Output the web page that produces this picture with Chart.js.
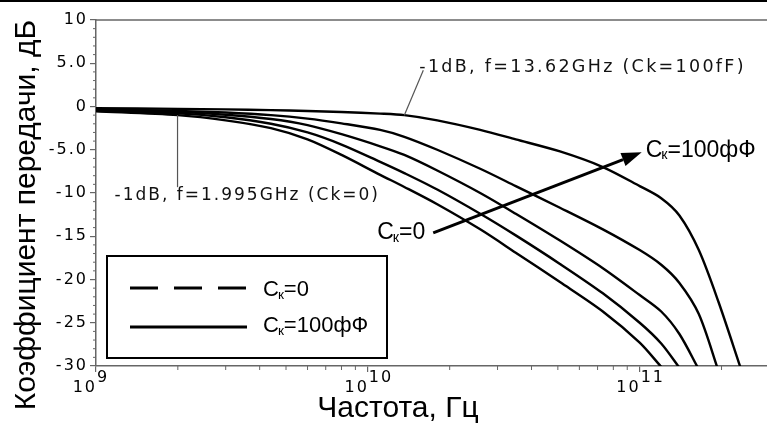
<!DOCTYPE html>
<html><head><meta charset="utf-8">
<script src="https://cdn.jsdelivr.net/npm/chart.js@4.4.0/dist/chart.umd.min.js"></script>
<style>html,body{margin:0;padding:0;background:#fff;overflow:hidden}#wrap{width:767px;height:435px}</style>
</head><body><div id="wrap"><canvas id="c" width="767" height="435"></canvas></div>
<script>
// Frequencies in GHz
const freqGHz = [1, 2, 3, 4.4, 6, 8, 11.1, 13.62, 18, 25.9, 35, 50.9, 73.2, 100, 120, 140, 165, 195, 235];
// Transfer coefficient, dB (bottom curve Ck=0 ... top curve Ck=100fF)
const gainCk0   = [-0.55, -1.0, -1.6, -2.5, -3.8, -5.6, -7.9, -9.3, -11.3, -14.2, -16.9, -20.3, -23.7, -27.3, -30.1, null, null, null, null];
const gainCk25  = [-0.5, -0.8, -1.25, -2.0, -3.0, -4.4, -6.4, -7.7, -9.6, -12.4, -14.9, -18.2, -21.6, -25.0, -27.4, -30.2, null, null, null];
const gainCk50  = [-0.4, -0.65, -0.95, -1.45, -2.15, -3.2, -4.6, -5.6, -7.4, -10.0, -12.4, -15.5, -18.7, -21.8, -23.7, -26.3, -30.4, null, null];
const gainCk75  = [-0.3, -0.5, -0.7, -1.0, -1.4, -1.95, -2.7, -3.5, -5.0, -7.2, -9.2, -11.7, -14.2, -16.6, -18.3, -20.4, -24.0, -30.6, null];
const gainCk100 = [-0.2, -0.28, -0.33, -0.42, -0.52, -0.64, -0.82, -1.0, -1.6, -2.7, -3.8, -5.2, -7.0, -9.2, -10.6, -12.6, -16.6, -22.6, -30.2];
const seriesLabels = ['Cк=0', 'Cк=25фФ', 'Cк=50фФ', 'Cк=75фФ', 'Cк=100фФ'];

const yTickValues = [-30, -25, -20, -15, -10, -5, 0, 5, 10];
const yTickLabels = ['-30', '-25', '-20', '-15', '-10', '-5.0', '0', '5.0', '10'];
const xTickValues = [1e9, 1e10, 1e11];
const xTickBase = ['10', '10', '10'];
const xTickExp = ['9', '10', '11'];

const xTitle = 'Частота, Гц';
const yTitle = 'Коэффициент передачи, дБ';
const note100 = '-1dB, f=13.62GHz (Ck=100fF)';
const note0 = '-1dB, f=1.995GHz (Ck=0)';
const note100Point = [13.62e9, -1];
const note0Point = [1.995e9, -1];
const arrowFrom = [17.4e9, -14.6];
const arrowTo = [101.7e9, -5.3];
const ckZeroRest = '=0';
const ckHundredRest = '=100фФ';

const seriesList = [gainCk0, gainCk25, gainCk50, gainCk75, gainCk100];
const datasets = seriesList.map((arr, i) => ({
  label: seriesLabels[i],
  data: freqGHz.map((f, j) => ({x: f * 1e9, y: arr[j]})),
  borderColor: '#000', borderWidth: 2.4, pointRadius: 0, fill: false,
  tension: 0.3, spanGaps: false
}));

function drawCk(ctx, x, yMid, rest, size) {
  ctx.textBaseline = 'middle'; ctx.textAlign = 'left'; ctx.fillStyle = '#000';
  ctx.font = size + 'px "Liberation Sans"';
  ctx.fillText('C', x, yMid);
  let w = ctx.measureText('C').width;
  ctx.font = (size * 0.62) + 'px "Liberation Sans"';
  ctx.fillText('к', x + w - 1, yMid + size * 0.22);
  w += ctx.measureText('к').width - 1;
  ctx.font = size + 'px "Liberation Sans"';
  ctx.fillText(rest, x + w, yMid);
}

const decor = {
  id: 'decor',
  beforeDraw(chart) { chart.ctx.letterSpacing = '2px'; },
  afterDraw(chart) {
    const ctx = chart.ctx, xs = chart.scales.x, ys = chart.scales.y, ca = chart.chartArea;
    ctx.save();
    ctx.letterSpacing = '0px';
    // outer top rule
    ctx.fillStyle = '#000'; ctx.fillRect(0, 0, chart.width, 2);
    // plot top border
    ctx.strokeStyle = '#666'; ctx.lineWidth = 1.5;
    ctx.beginPath(); ctx.moveTo(ca.left, ca.top); ctx.lineTo(ca.right, ca.top); ctx.stroke();
    // minor ticks
    ctx.lineWidth = 1; ctx.strokeStyle = '#666';
    ctx.beginPath();
    for (let e = 9; e <= 11; e++) for (let k = 2; k <= 9; k++) {
      const v = k * Math.pow(10, e); if (v > xs.max) break;
      const px = xs.getPixelForValue(v); ctx.moveTo(px, ca.bottom); ctx.lineTo(px, ca.bottom + 4);
    }
    for (let v = ys.min; v <= ys.max; v++) {
      if (v % 5 === 0) continue;
      const py = ys.getPixelForValue(v); ctx.moveTo(ca.left - 3, py); ctx.lineTo(ca.left, py);
    }
    ctx.stroke();
    // x tick labels with exponent
    ctx.fillStyle = '#000'; ctx.letterSpacing = '2px';
    xTickValues.forEach((v, i) => {
      const px = xs.getPixelForValue(v);
      ctx.font = '16px "DejaVu Sans"'; ctx.textBaseline = 'middle';
      ctx.textAlign = 'right'; ctx.fillText(xTickBase[i], px + 1, ca.bottom + 22);
      ctx.textAlign = 'left'; ctx.fillText(xTickExp[i], px + 1, ca.bottom + 12);
    });
    // annotations
    ctx.letterSpacing = '2.3px';
    ctx.strokeStyle = '#555'; ctx.lineWidth = 1.2;
    let p1x = xs.getPixelForValue(note100Point[0]), p1y = ys.getPixelForValue(note100Point[1]);
    ctx.beginPath(); ctx.moveTo(p1x, p1y); ctx.lineTo(p1x + 19, p1y - 45); ctx.stroke();
    ctx.font = '17.5px "DejaVu Sans"'; ctx.fillStyle = '#111'; ctx.textAlign = 'left'; ctx.textBaseline = 'middle';
    ctx.fillText(note100, p1x + 15, p1y - 48);
    let p0x = xs.getPixelForValue(note0Point[0]), p0y = ys.getPixelForValue(note0Point[1]);
    ctx.beginPath(); ctx.moveTo(p0x, p0y); ctx.lineTo(p0x, p0y + 72); ctx.stroke();
    ctx.letterSpacing = '2px'; ctx.font = '17px "DejaVu Sans"';
    ctx.fillText(note0, p0x - 63, p0y + 80);
    ctx.letterSpacing = '0px';
    // arrow
    const ax0 = xs.getPixelForValue(arrowFrom[0]), ay0 = ys.getPixelForValue(arrowFrom[1]);
    const ax1 = xs.getPixelForValue(arrowTo[0]), ay1 = ys.getPixelForValue(arrowTo[1]);
    const ang = Math.atan2(ay1 - ay0, ax1 - ax0), hl = 20, hw = 7;
    const bx = ax1 - hl * Math.cos(ang), by = ay1 - hl * Math.sin(ang);
    ctx.strokeStyle = '#000'; ctx.lineWidth = 3;
    ctx.beginPath(); ctx.moveTo(ax0, ay0); ctx.lineTo(bx, by); ctx.stroke();
    ctx.fillStyle = '#000'; ctx.beginPath();
    ctx.moveTo(ax1, ay1);
    ctx.lineTo(bx + hw * Math.sin(ang), by - hw * Math.cos(ang));
    ctx.lineTo(bx - hw * Math.sin(ang), by + hw * Math.cos(ang));
    ctx.closePath(); ctx.fill();
    drawCk(ctx, ax0 - 56, ay0, ckZeroRest, 23);
    drawCk(ctx, ax1 + 4, ay1 - 2, ckHundredRest, 23);
    // legend box
    ctx.strokeStyle = '#000'; ctx.lineWidth = 2;
    ctx.strokeRect(107, 256, 280, 102);
    ctx.lineWidth = 3;
    ctx.setLineDash([28, 16]);
    ctx.beginPath(); ctx.moveTo(130, 288); ctx.lineTo(247, 288); ctx.stroke();
    ctx.setLineDash([]);
    ctx.beginPath(); ctx.moveTo(130, 327); ctx.lineTo(247, 327); ctx.stroke();
    drawCk(ctx, 263, 290, ckZeroRest, 22);
    drawCk(ctx, 263, 326, ckHundredRest, 22);
    // axis titles
    ctx.fillStyle = '#000'; ctx.font = '30px "Liberation Sans"';
    ctx.textAlign = 'center'; ctx.textBaseline = 'middle';
    ctx.fillText(xTitle, 398, 409);
    ctx.save(); ctx.translate(27, 215); ctx.rotate(-Math.PI / 2);
    ctx.fillText(yTitle, 0, 0); ctx.restore();
    ctx.restore();
  }
};

new Chart(document.getElementById('c'), {
  type: 'line',
  data: { datasets },
  plugins: [decor],
  options: {
    responsive: false, animation: false, devicePixelRatio: 1,
    layout: { padding: { top: 20, right: 0, left: 0, bottom: 0 } },
    plugins: { legend: { display: false }, tooltip: { enabled: false } },
    scales: {
      x: {
        type: 'logarithmic', min: 1e9, max: 2.94e11,
        afterBuildTicks: s => { s.ticks = xTickValues.map(v => ({ value: v, major: true })); },
        afterFit: s => { s.height = 69; },
        ticks: { display: false },
        grid: { drawOnChartArea: false, drawTicks: true, tickLength: 6, color: '#666', lineWidth: 1.2 },
        border: { display: true, color: '#666', width: 1.5 }
      },
      y: {
        type: 'linear', min: -30, max: 10,
        afterBuildTicks: s => { s.ticks = yTickValues.map(v => ({ value: v })); },
        afterFit: s => { s.width = 96; },
        ticks: {
          callback: v => { const i = yTickValues.indexOf(v); return i >= 0 ? yTickLabels[i] : ''; },
          font: { family: 'DejaVu Sans', size: 16 }, color: '#000', padding: 2
        },
        grid: { drawOnChartArea: false, drawTicks: true, tickLength: 6, color: '#666', lineWidth: 1.2 },
        border: { display: true, color: '#666', width: 1.5 }
      }
    }
  }
});
</script></body></html>
